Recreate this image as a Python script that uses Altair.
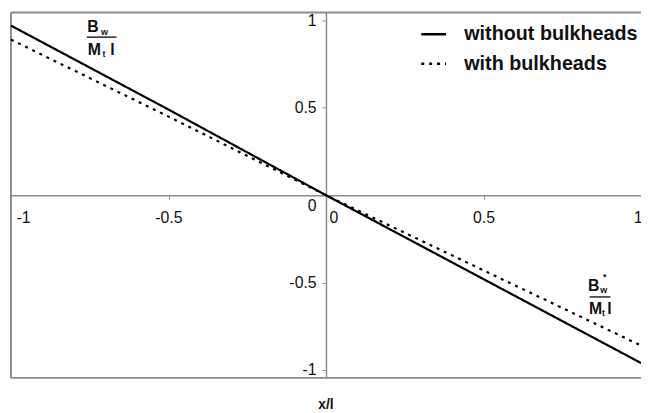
import altair as alt
import pandas as pd

# Data
x_vals = [-1.0, -0.5, 0.0, 0.5, 1.0]
without_bulkheads = [0.97, 0.49, 0.0, -0.48, -0.96]
with_bulkheads = [0.89, 0.45, 0.0, -0.43, -0.86]
series_names = ["without bulkheads", "with bulkheads"]
tick_values = [-1, -0.5, 0, 0.5, 1]

rows = []
for xv, a, b in zip(x_vals, without_bulkheads, with_bulkheads):
    rows.append({"x": xv, "y": a, "s": series_names[0]})
    rows.append({"x": xv, "y": b, "s": series_names[1]})
df = pd.DataFrame(rows)

W, H = 638, 370
GRAY = "#8c8c8c"
FONT = "Liberation Sans"

xscale = alt.Scale(domain=[-1, 1], nice=False, zero=False)
yscale = alt.Scale(domain=[-1.045, 1.045], nice=False, zero=False)

xaxis = alt.Axis(
    values=tick_values, offset=-185, grid=False, title=None,
    domainColor=GRAY, domainWidth=1.5, tickColor=GRAY, tickSize=4, tickWidth=1,
    labelFont=FONT, labelFontSize=16, labelColor="#111", labelPadding=11,
    labelExpr="toString(datum.value)", labelFlush=False,
    labelAlign={"condition": [{"test": "datum.value == -1", "value": "left"},
                              {"test": "datum.value == 0", "value": "left"},
                              {"test": "datum.value == 1", "value": "right"}],
                "value": "center"},
    labelOffset={"condition": [{"test": "datum.value == -1", "value": 5},
                               {"test": "datum.value == 0", "value": 3},
                               {"test": "datum.value == 1", "value": 1}],
                 "value": 0},
)
yaxis = alt.Axis(
    values=tick_values, offset=-319, grid=False, title=None,
    domainColor=GRAY, domainWidth=1.5, tickColor=GRAY, tickSize=4, tickWidth=1,
    labelFont=FONT, labelFontSize=16, labelColor="#111", labelPadding=6,
    labelExpr="toString(datum.value)", labelFlush=False,
    labelOffset={"condition": {"test": "datum.value == 0", "value": 10}, "value": 0},
)

lines = alt.Chart(df).mark_line(color="black", strokeWidth=2.2).encode(
    x=alt.X("x:Q", scale=xscale, axis=xaxis),
    y=alt.Y("y:Q", scale=yscale, axis=yaxis),
    strokeDash=alt.StrokeDash(
        "s:N",
        scale=alt.Scale(domain=series_names, range=[[1, 0], [3, 5]]),
        legend=alt.Legend(
            title=None, orient="none", legendX=414, legendY=8, padding=0,
            symbolType="stroke", symbolSize=625, symbolStrokeWidth=2.5,
            symbolStrokeColor="black", labelFont=FONT, labelFontSize=20,
            labelFontWeight="bold", labelColor="#111", labelOffset=17,
            labelLimit=400, rowPadding=6,
        ),
    ),
    detail="s:N",
)

# frame: left, top, bottom
frame = alt.Chart(pd.DataFrame({"k": [0]})).mark_rule(color=GRAY, strokeWidth=2)
left = frame.encode(x=alt.value(0), y=alt.value(0), y2=alt.value(H))
top = frame.encode(x=alt.value(0), x2=alt.value(W), y=alt.value(0))
bottom = frame.encode(x=alt.value(0), x2=alt.value(W), y=alt.value(H))

# fraction annotations (data coordinates)
big_txt = pd.DataFrame({
    "x": [-0.740, -0.735, -0.678, 0.850, 0.856, 0.900],
    "y": [0.96, 0.831, 0.831, -0.520, -0.650, -0.650],
    "t": ["B", "M", "l", "B", "M", "l"],
})
small_txt = pd.DataFrame({
    "x": [-0.703, -0.705, 0.882, 0.885, 0.881],
    "y": [0.935, 0.805, -0.545, -0.470, -0.675],
    "t": ["w", "t", "w", "*", "t"],
})
bars = pd.DataFrame({
    "x": [-0.759, 0.837], "x2": [-0.665, 0.903], "y": [0.904, -0.582],
})

big = alt.Chart(big_txt).mark_text(font=FONT, fontSize=16, fontWeight="bold",
                                   color="#111").encode(
    x=alt.X("x:Q", scale=xscale), y=alt.Y("y:Q", scale=yscale), text="t:N")
small = alt.Chart(small_txt).mark_text(font=FONT, fontSize=9, fontWeight="bold",
                                       color="#111").encode(
    x=alt.X("x:Q", scale=xscale), y=alt.Y("y:Q", scale=yscale), text="t:N")
fracbar = alt.Chart(bars).mark_rule(color="#222", strokeWidth=1.5).encode(
    x=alt.X("x:Q", scale=xscale), x2="x2:Q", y=alt.Y("y:Q", scale=yscale))

chart = alt.layer(left, top, bottom, lines, fracbar, big, small).properties(
    width=W, height=H,
    title=alt.TitleParams("x/l", orient="bottom", font=FONT, fontSize=14,
                          fontWeight="bold", color="#111", offset=20),
    autosize=alt.AutoSizeParams(type="none"),
    padding={"left": 3, "top": 2, "right": 0, "bottom": 33},
).configure_view(stroke=None).resolve_scale(x="shared", y="shared")

chart.save("out.html", embed_options={"renderer": "svg", "actions": False})
